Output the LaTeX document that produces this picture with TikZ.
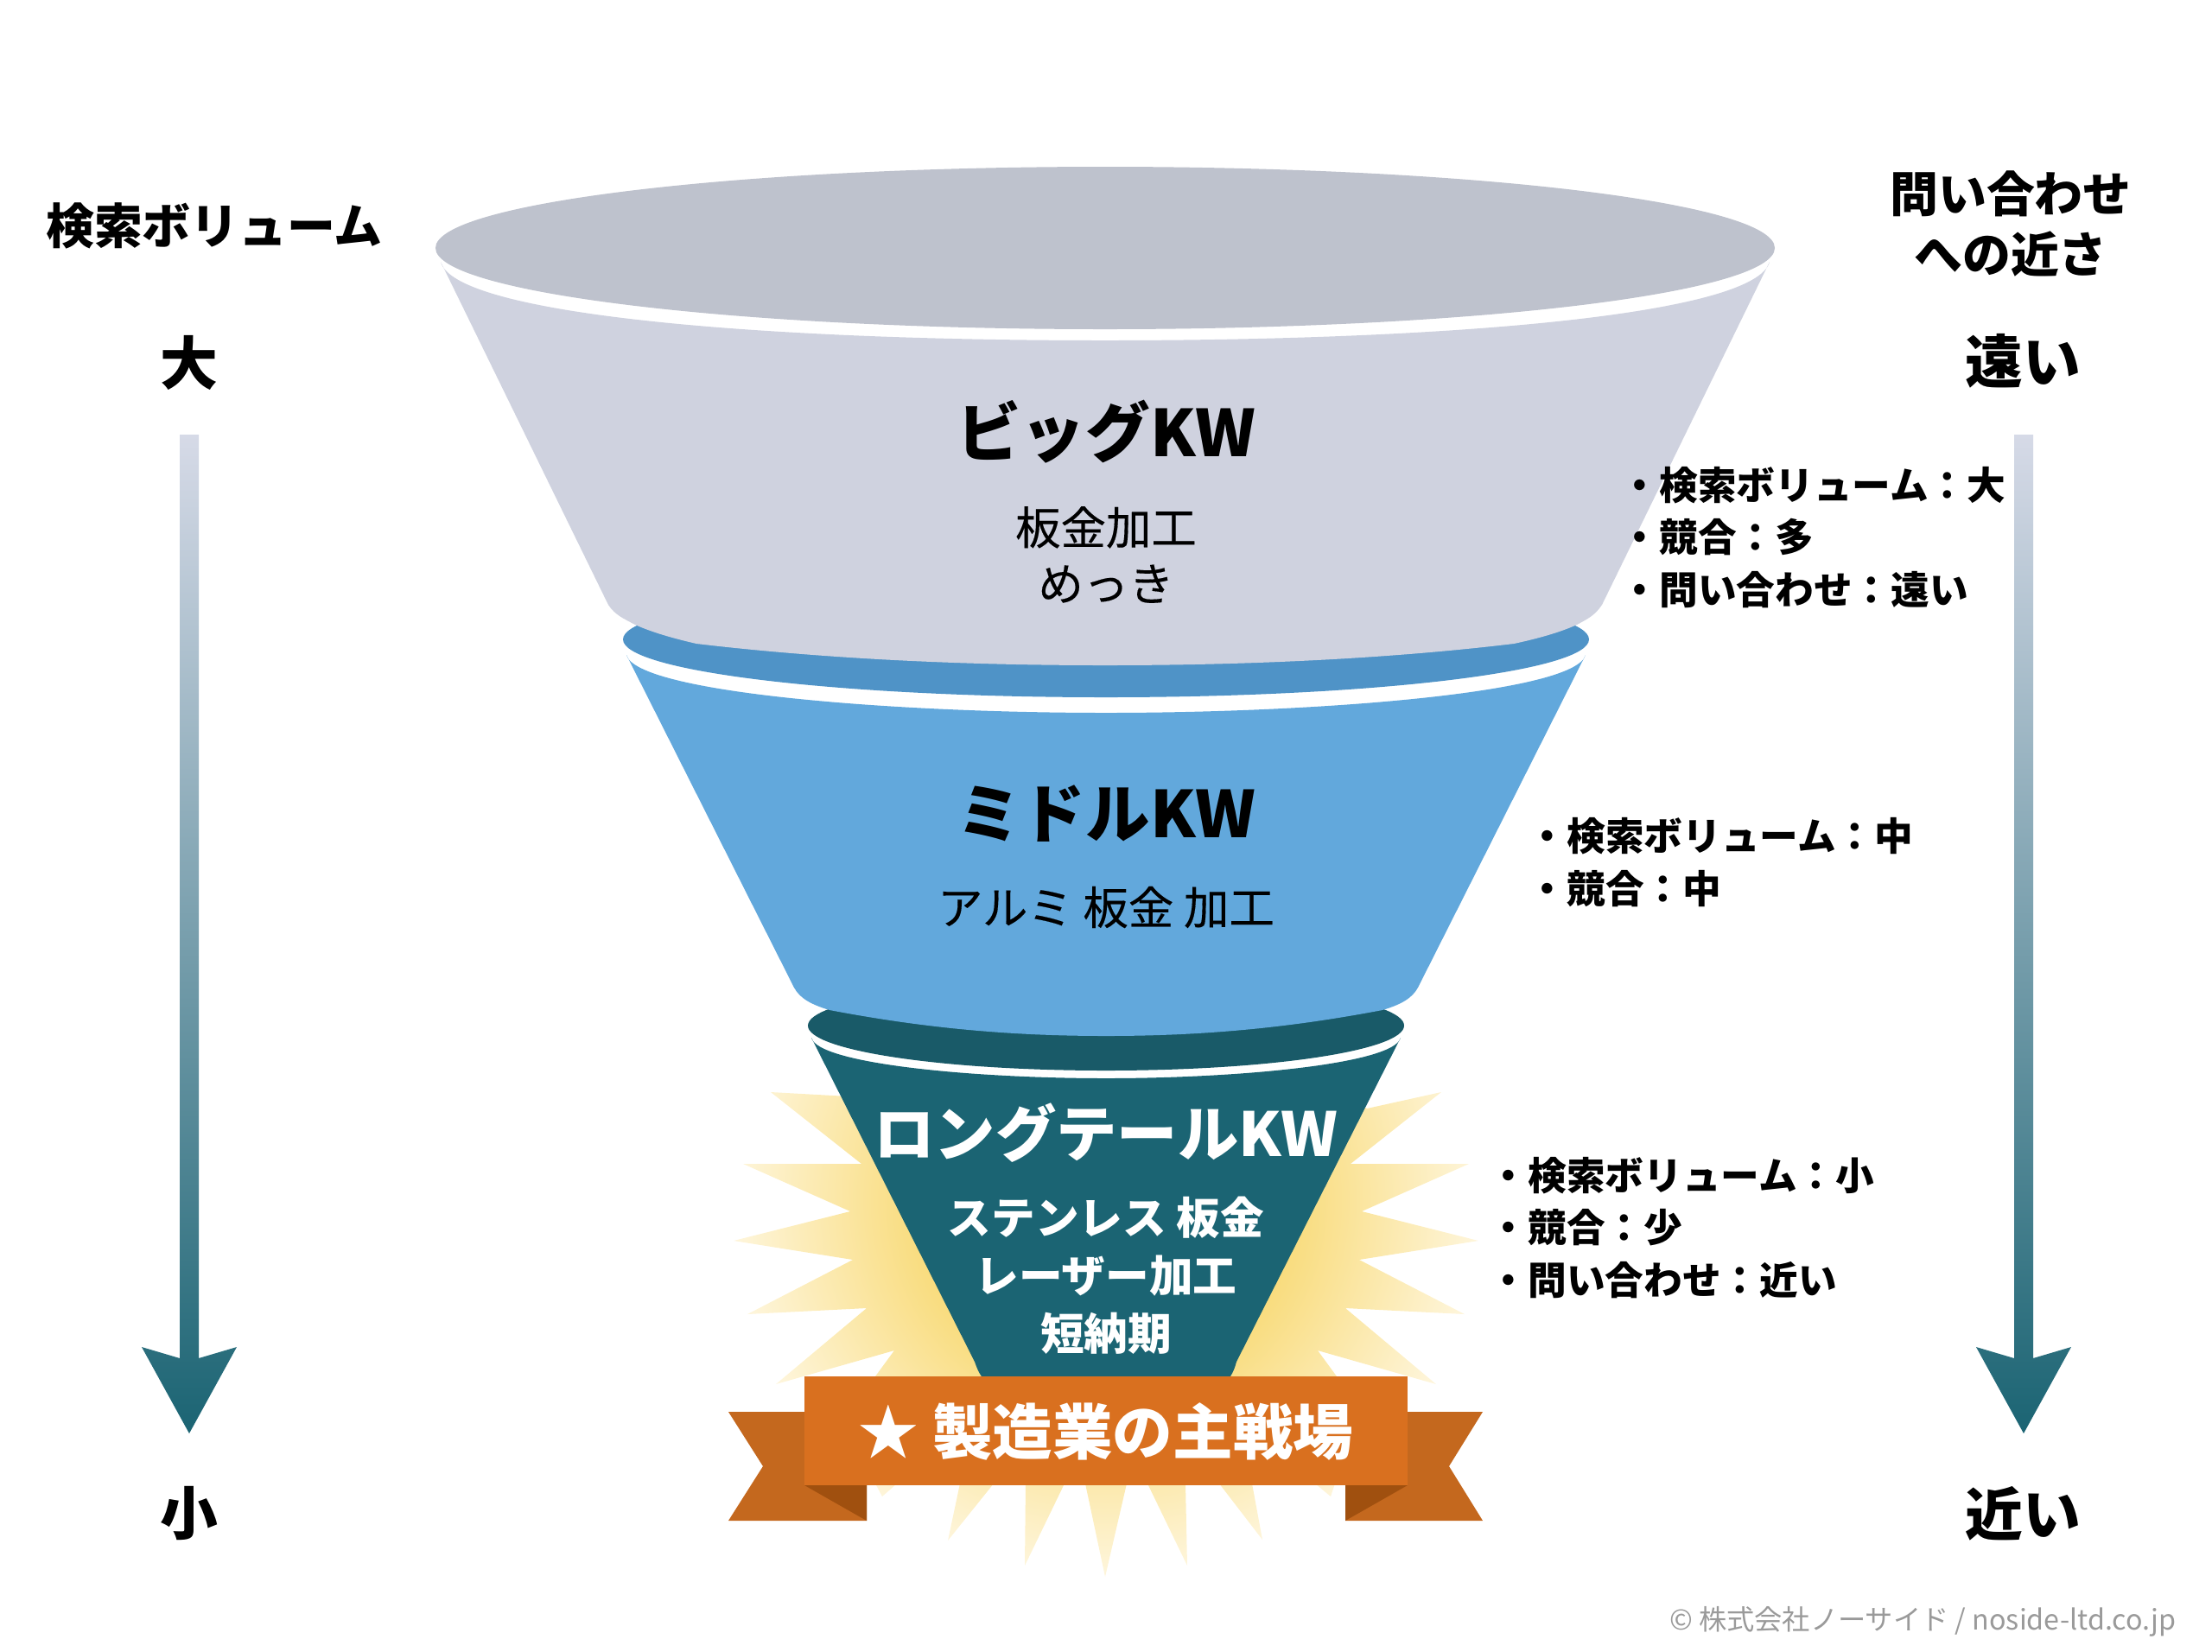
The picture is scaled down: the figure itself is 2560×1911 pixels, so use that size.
\documentclass[tikz,border=0pt]{standalone}
\usepackage{fontspec}
\setmainfont{Noto Sans CJK JP}
\newfontfamily\jpmedium[FakeBold=0.25]{Noto Sans CJK JP}
\usetikzlibrary{positioning}
\definecolor{grayBody}{HTML}{CFD2DF}
\definecolor{grayTop}{HTML}{BEC2CD}
\definecolor{blueBody}{HTML}{62A8DC}
\definecolor{blueTop}{HTML}{4F93C7}
\definecolor{tealBody}{HTML}{1B6473}
\definecolor{tealTop}{HTML}{195A68}
\definecolor{ribbonMain}{HTML}{D9701F}
\definecolor{ribbonTail}{HTML}{C4681E}
\definecolor{ribbonFold}{HTML}{A0500F}
\definecolor{arrowTop}{HTML}{D6DAE7}
\definecolor{copyGray}{HTML}{9A9A9A}
\definecolor{burstIn}{HTML}{F3C21E}
\definecolor{burstOut}{HTML}{FFFAEC}
\tikzset{
  axislabel/.style={font=\bfseries\fontsize{19}{19}\selectfont, inner sep=0pt},
  axistitle/.style={font=\bfseries\fontsize{15.9}{20}\selectfont, inner sep=0pt, align=center},
  kwtitle/.style={font=\bfseries\fontsize{21.2}{24}\selectfont, inner sep=0pt},
  kwsub/.style={font=\jpmedium\fontsize{14.9}{18.5}\selectfont, inner sep=0pt, align=center},
  kwsubwhite/.style={font=\bfseries\fontsize{14.4}{19}\selectfont, inner sep=0pt, align=center, text=white},
  factlist/.style={font=\bfseries\fontsize{12.7}{17.2}\selectfont, inner sep=0pt, align=left, anchor=west},
}
\begin{document}
\begin{tikzpicture}[x=0.01cm,y=-0.01cm]
\useasboundingbox (0,0) rectangle (2560,1911);

% burst behind the stem
\begin{scope}
\clip (1000,1270)--(892,1264)--(997,1347)--(860,1347)--(984,1402)--(849,1436)--(987,1458)--(865,1521)--(1003,1514)--(898,1602)--(1035,1563)--(1013,1593)--(1013,1717)--(1021,1732)--(1038,1717)--(1111,1717)--(1097,1783)--(1150,1717)--(1187,1717)--(1186,1812)--(1232,1717)--(1256,1717)--(1279,1825)--(1304,1717)--(1328,1717)--(1374,1812)--(1372,1717)--(1411,1717)--(1461,1782)--(1449,1717)--(1522,1717)--(1540,1732)--(1545,1717)--(1547,1593)--(1525,1563)--(1662,1602)--(1557,1514)--(1695,1521)--(1573,1458)--(1711,1436)--(1576,1402)--(1700,1347)--(1563,1347)--(1668,1264)--(1582,1283)--(1560,1270)--cycle;
\shade[inner color=burstIn, outer color=burstOut] (1280,1390) circle (470);
\end{scope}

% bottom section
\fill[tealBody] (939,1201)--(1128,1576)..controls (1132,1588) and (1138,1600)..(1150,1605)--(1410,1605)..controls (1422,1600) and (1428,1588)..(1431,1576)--(1621,1201)..controls (1614,1231) and (1435,1248)..(1280,1248)..controls (1125,1248) and (946,1231)..(939,1201)--cycle;
\fill[tealTop] (1280,1187) ellipse [x radius=345, y radius=52];

% ribbon
\fill[ribbonTail] (843,1634)--(960,1634)--(1003,1719)--(1003,1760)--(843,1760)--(883,1697)--cycle;
\fill[ribbonTail] (1716,1634)--(1600,1634)--(1557,1719)--(1557,1760)--(1716,1760)--(1677,1697)--cycle;
\fill[ribbonFold] (931,1719)--(1003,1719)--(1003,1760)--cycle;
\fill[ribbonFold] (1629,1719)--(1557,1719)--(1557,1760)--cycle;
\fill[ribbonMain] (931,1593) rectangle (1629,1719);

% middle section
\fill[blueBody] (725,758)--(919,1143)..controls (926,1156) and (940,1163)..(960,1169)..controls (1070,1190) and (1170,1199)..(1280,1199)..controls (1390,1199) and (1490,1190)..(1600,1169)..controls (1620,1163) and (1634,1156)..(1641,1143)--(1835,758)..controls (1824,801) and (1533,825)..(1280,825)..controls (1027,825) and (736,801)..(725,758)--cycle;
\fill[blueTop] (1280,740) ellipse [x radius=559, y radius=67];

% top section
\fill[grayBody] (510,303)--(704,700)..controls (712,712) and (722,716)..(735,723)..controls (755,732) and (780,739)..(806,745)..controls (950,762) and (1110,770)..(1279,770)..controls (1450,770) and (1610,762)..(1752,745)..controls (1780,739) and (1805,732)..(1825,723)..controls (1838,716) and (1846,712)..(1854,700)--(2048,303)..controls (2033,362) and (1698,394)..(1279,394)..controls (860,394) and (525,362)..(510,303)--cycle;
\fill[grayTop] (1279,287) ellipse [x radius=775, y radius=94];

% arrows on both sides
\foreach \ax in {219,2342}{
\shade[top color=arrowTop, bottom color=tealBody] (\ax-11,503)--(\ax+11,503)--(\ax+11,1572)--(\ax+55,1559)--(\ax,1659)--(\ax-55,1559)--(\ax-11,1572)--cycle;
}

\node[axistitle] (volTitle) at (248,261) {検索ボリューム};
\node[axislabel] (volBig) at (219,420) {大};
\node[axislabel] (volSmall) at (219,1752) {小};
\node[axistitle] (nearTitle) at (2327,259) {問い合わせ\\への近さ};
\node[axislabel] (nearFar) at (2341,418) {遠い};
\node[axislabel] (nearClose) at (2341,1752) {近い};

\node[kwtitle] (bigKw) at (1280,500) {ビッグKW};
\node[kwsub] (bigSub) at (1280,642) {板金加工\\めっき};
\node[kwtitle] (midKw) at (1280,942) {ミドルKW};
\node[kwsub] (midSub) at (1280,1050) {アルミ 板金 加工};
\node[kwtitle, font=\bfseries\fontsize{20}{24}\selectfont, text=white] (longKw) at (1280,1311) {ロングテールKW};
\node[kwsubwhite] (longSub) at (1280,1476) {ステンレス 板金\\レーザー加工\\短納期};
\node[font=\bfseries\fontsize{19.8}{20}\selectfont, text=white, inner sep=0pt] (ribbonText) at (1280,1657) {★ 製造業の主戦場};

\node[factlist] (bigFacts) at (1875,622) {・検索ボリューム：大\\・競合：多\\・問い合わせ：遠い};
\node[factlist] (midFacts) at (1768,998) {・検索ボリューム：中\\・競合：中};
\node[factlist] (longFacts) at (1723,1421) {・検索ボリューム：小\\・競合：少\\・問い合わせ：近い};

\node[font=\fontsize{9.17}{10}\selectfont, text=copyGray, inner sep=0pt, anchor=east] (copyNote) at (2519,1877) {© 株式会社ノーサイド / noside-ltd.co.jp};
\end{tikzpicture}
\end{document}
